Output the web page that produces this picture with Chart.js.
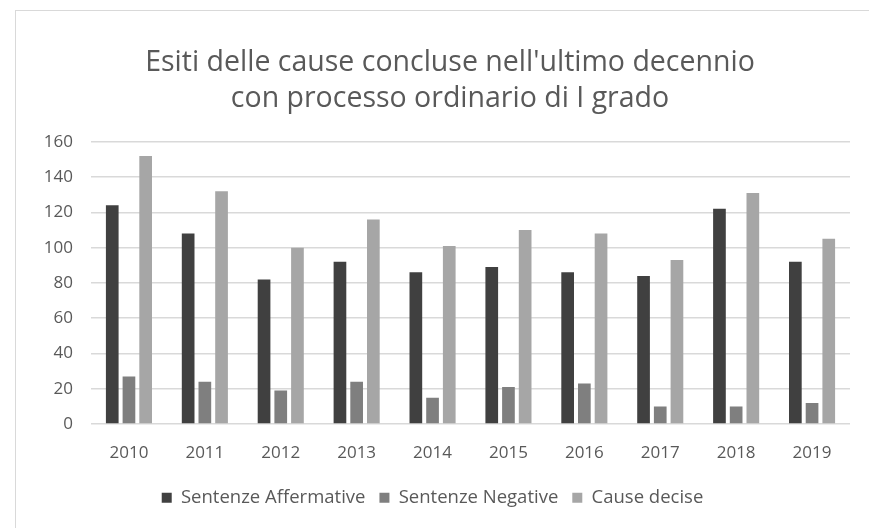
<!DOCTYPE html>
<html>
<head>
<meta charset="utf-8">
<script src="https://cdn.jsdelivr.net/npm/chart.js@4"></script>
<style>
  html, body { margin: 0; padding: 0; background: #fff; overflow: hidden; }
  #frame { position: absolute; left: 15px; top: 10px; width: 900px; height: 540px; border: 1px solid #d9d9d9; border-right: none; border-bottom: none; }
  #wrap { position: absolute; left: 0; top: 0; width: 869px; height: 528px; }
</style>
</head>
<body>
<div id="frame"></div>
<div id="wrap"><canvas id="chart" width="869" height="528"></canvas></div>
<script>
// dati
const anni = ['2010', '2011', '2012', '2013', '2014', '2015', '2016', '2017', '2018', '2019'];
const sentenzeAffermative = [124, 108, 82, 92, 86, 89, 86, 84, 122, 92];
const sentenzeNegative = [27, 24, 19, 24, 15, 21, 23, 10, 10, 12];
const causeDecise = [152, 132, 100, 116, 101, 110, 108, 93, 131, 105];
const titolo = ["Esiti delle cause concluse nell'ultimo decennio", 'con processo ordinario di I grado'];

const textColor = '#595959';
const gridColor = '#d9d9d9';

Chart.defaults.font.family = "'Open Sans', sans-serif";
Chart.defaults.color = textColor;

const barStyle = { categoryPercentage: 0.66, barPercentage: 0.76 };

// il titolo in Excel è centrato sulla cornice, non sull'area del grafico
const titoloCentrato = {
  id: 'titoloCentrato',
  afterLayout(chart) {
    if (chart.titleBlock) {
      chart.titleBlock.left = 15;
      chart.titleBlock.right = 885;
    }
  }
};

new Chart(document.getElementById('chart'), {
  type: 'bar',
  data: {
    labels: anni,
    datasets: [
      { label: 'Sentenze Affermative', data: sentenzeAffermative, backgroundColor: '#404040', ...barStyle },
      { label: 'Sentenze Negative', data: sentenzeNegative, backgroundColor: '#7f7f7f', ...barStyle },
      { label: 'Cause decise', data: causeDecise, backgroundColor: '#a6a6a6', ...barStyle }
    ]
  },
  plugins: [titoloCentrato],
  options: {
    responsive: false,
    animation: false,
    layout: { padding: { left: 15, right: 19, top: 0, bottom: 11 } },
    plugins: {
      title: {
        display: true,
        text: titolo,
        color: textColor,
        font: { size: 28.5, weight: 'normal', lineHeight: 1.26 },
        padding: { top: 45, bottom: 25 }
      },
      legend: {
        position: 'bottom',
        labels: {
          boxWidth: 10,
          boxHeight: 10,
          padding: 14,
          font: { size: 18.5 },
          color: textColor
        }
      },
      tooltip: { enabled: false }
    },
    scales: {
      x: {
        grid: { display: false },
        border: { display: false },
        ticks: { font: { size: 17 }, color: textColor, padding: 11 }
      },
      y: {
        min: 0,
        max: 160,
        ticks: { stepSize: 20, font: { size: 17 }, color: textColor, padding: 18 },
        grid: { color: gridColor, lineWidth: 1.5, drawTicks: false },
        border: { display: false },
        afterFit: (scale) => { scale.width = 76; }
      }
    }
  }
});
</script>
</body>
</html>
